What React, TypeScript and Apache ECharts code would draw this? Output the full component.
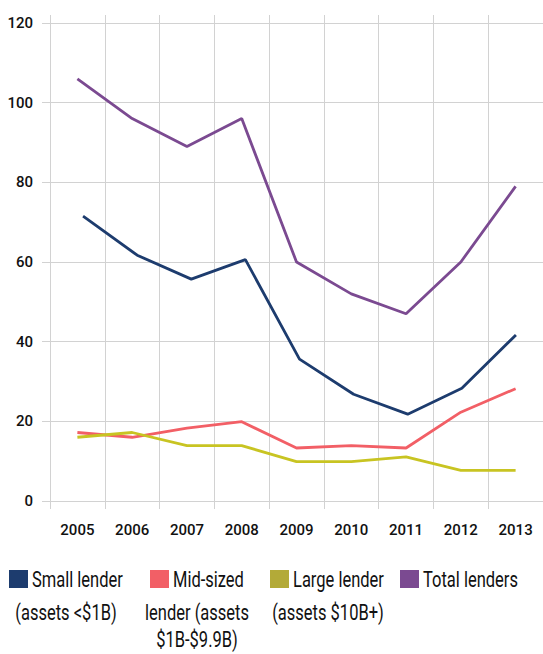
import React, { useEffect, useRef } from "react";
import * as echarts from "echarts";

const years = ["2005", "2006", "2007", "2008", "2009", "2010", "2011", "2012", "2013"];
const smallLender = [71.5, 61.7, 55.7, 60.6, 35.6, 26.8, 21.8, 28.3, 41.7];
const midLender = [17.2, 16.0, 18.3, 19.9, 13.3, 13.9, 13.3, 22.3, 28.2];
const largeLender = [16.0, 17.2, 13.9, 13.9, 9.9, 9.9, 11.1, 7.7, 7.7];
const totalLenders = [106, 96, 89, 96, 60, 52, 47, 60, 79];

const legendLines = [
  ["Small lender", "(assets <$1B)"],
  ["Mid-sized", "lender (assets", "$1B-$9.9B)"],
  ["Large lender", "(assets $10B+)"],
  ["Total lenders"],
];
const seriesNames = ["Small lender", "Mid-sized lender", "Large lender", "Total lenders"];
const lineColors = ["#1d3c6e", "#f25f66", "#c8c422", "#7b4a91"];
const legendColors = ["#1d3c6e", "#f25f66", "#b3aa38", "#7b4a91"];

const FONT = "Roboto, 'Noto Sans', sans-serif";
const GRID_COLOR = "#d2d2d2";

export default function App() {
  const ref = useRef<HTMLDivElement>(null);
  useEffect(() => {
    if (!ref.current) return;
    const chart = echarts.init(ref.current, undefined, { renderer: "svg" });

    // legend layout (positions only)
    const legendPos = [
      { sqX: 9, textX: 32, cx: 66 },
      { sqX: 150, textX: 173, cx: 197 },
      { sqX: 270, textX: 293, cx: 328 },
      { sqX: 400, textX: 423, cx: 460 },
    ];
    const lineY = [580, 613, 640];
    const graphic: any[] = [];
    legendLines.forEach((lines, i) => {
      const p = legendPos[i];
      graphic.push({
        type: "rect",
        shape: { x: p.sqX, y: 570, width: 19, height: 18 },
        style: { fill: legendColors[i] },
      });
      lines.forEach((t, j) => {
        graphic.push({
          type: "text",
          x: j === 0 ? p.textX : p.cx,
          y: lineY[j],
          scaleX: 0.75,
          style: {
            text: t,
            fill: "#111",
            font: `22px ${FONT}`,
            textAlign: j === 0 ? "left" : "center",
            textVerticalAlign: "middle",
          },
        });
      });
    });

    const data = [smallLender, midLender, largeLender, totalLenders];

    chart.setOption({
      animation: false,
      backgroundColor: "#fff",
      grid: [
        { left: 50, top: 23, width: 499, height: 478 },
        { left: 56, top: 23, width: 499, height: 478 },
      ],
      xAxis: [
        {
          type: "category",
          data: years,
          gridIndex: 0,
          boundaryGap: true,
          axisLine: { show: true, lineStyle: { color: GRID_COLOR, width: 1 } },
          axisTick: { show: true, length: 8, lineStyle: { color: GRID_COLOR, width: 1 } },
          splitLine: { show: true, lineStyle: { color: GRID_COLOR, width: 1 } },
          axisLabel: { color: "#111", fontFamily: FONT, fontSize: 15, fontWeight: 500, margin: 21 },
        },
        {
          type: "category",
          data: years,
          gridIndex: 0,
          position: "top",
          boundaryGap: true,
          axisLine: { show: false },
          axisTick: { show: true, length: 8, lineStyle: { color: GRID_COLOR, width: 1 } },
          splitLine: { show: false },
          axisLabel: { show: false },
        },
        {
          type: "category",
          data: years,
          gridIndex: 1,
          show: false,
        },
      ],
      yAxis: [
        {
          type: "value",
          gridIndex: 0,
          min: 0,
          max: 120,
          interval: 20,
          axisLine: { show: false },
          axisTick: { show: true, length: 8, lineStyle: { color: GRID_COLOR, width: 1 } },
          splitLine: { show: true, lineStyle: { color: GRID_COLOR, width: 1 } },
          axisLabel: { color: "#111", fontFamily: FONT, fontSize: 15, fontWeight: 500, margin: 17 },
        },
        {
          type: "value",
          gridIndex: 1,
          min: 0,
          max: 120,
          interval: 20,
          show: false,
        },
      ],
      series: data.map((d, i) => ({
        name: seriesNames[i],
        type: "line",
        data: d,
        xAxisIndex: i === 0 ? 2 : 0,
        yAxisIndex: i === 0 ? 1 : 0,
        symbol: "none",
        lineStyle: { color: lineColors[i], width: 2.8 },
        itemStyle: { color: lineColors[i] },
      })),
      graphic,
    });
    return () => chart.dispose();
  }, []);
  return (
    <div
      ref={ref}
      style={{ position: "fixed", left: 0, top: 0, width: 543, height: 654 }}
    />
  );
}
